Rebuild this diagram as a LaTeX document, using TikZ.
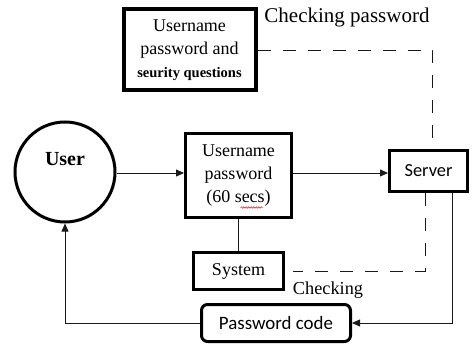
\documentclass[tikz,border=0pt]{standalone}
\usepackage{fontspec}
\setmainfont{Liberation Serif}
\newfontfamily\calibri{Carlito}
\usetikzlibrary{arrows.meta,decorations.pathmorphing}

\begin{document}
\begin{tikzpicture}[x=1pt,y=-1pt,
    >={Triangle[length=8pt,width=7pt]},
    thickbox/.style={rectangle,draw,line width=3pt,inner sep=0pt,align=center,
        font=\fontsize{18}{23}\selectfont},
    conn/.style={draw,line width=0.8pt,gray!20!black},
    dashconn/.style={conn,dash pattern=on 13pt off 12pt}]
      \useasboundingbox (0,0) rectangle (472,345);
      % nodes
      \node [circle,draw,line width=3pt,minimum size=100pt] (user) at (65,172) {};
      \node [font=\fontsize{20}{24}\selectfont\bfseries] (usertext) at (65,159) {User};
      \node [thickbox,line width=4pt,minimum width=132pt,minimum height=81pt] (cred) at (189.5,50)
            {Username\\password and\\{\fontsize{14.5}{16}\selectfont\bfseries seurity questions}};
      \node [thickbox,minimum width=106pt,minimum height=84pt] (login) at (238.5,175.5)
            {Username\\password\\(60 secs)};
      \node [thickbox,minimum width=78pt,minimum height=41pt,font=\fontsize{18.4}{22}\calibri] (server) at (428.5,171) {Server};
      \node [thickbox,minimum width=90pt,minimum height=37pt] (system) at (238.5,271) {System};
      \node [thickbox,rounded corners=6pt,minimum width=149pt,minimum height=37pt,font=\fontsize{18.9}{22}\calibri] (code) at (276,323) {Password code};
      \node [font=\fontsize{21}{25}\selectfont] (chkpw) at (347,17) {Checking password};
      \node [font=\fontsize{18.3}{22}\selectfont] (chk) at (328,290) {Checking};
      % spelling mark
      \draw [red,line width=0.5pt,decorate,decoration={snake,amplitude=0.8pt,segment length=2.5pt}]
            ([xshift=2pt,yshift=-32pt]login.center) -- ([xshift=24pt,yshift=-32pt]login.center);
      % connectors
      \draw [conn,->] (user.east |- 0,173) -- (login.west |- 0,173);
      \draw [conn,->] (login.east |- 0,173) -- (server.west |- 0,173);
      \draw [conn] (login.south) -- (system.north);
      \draw [dashconn] (cred.east) -- ++(175,0) coordinate (c1) -- (c1 |- server.north);
      \coordinate (s1) at ([xshift=-3.5pt]server.south);
      \coordinate (s2) at ([xshift=8pt]system.east);
      \draw [dashconn] (s1) -- (s1 |- s2) -- (s2);
      \coordinate (s3) at ([xshift=23.5pt]server.south);
      \draw [conn,->] (s3) -- (s3 |- code.east) -- (code.east);
      \draw [conn,->] (code.west) -- (user.south |- code.west) -- (user.south);
\end{tikzpicture}
\end{document}
